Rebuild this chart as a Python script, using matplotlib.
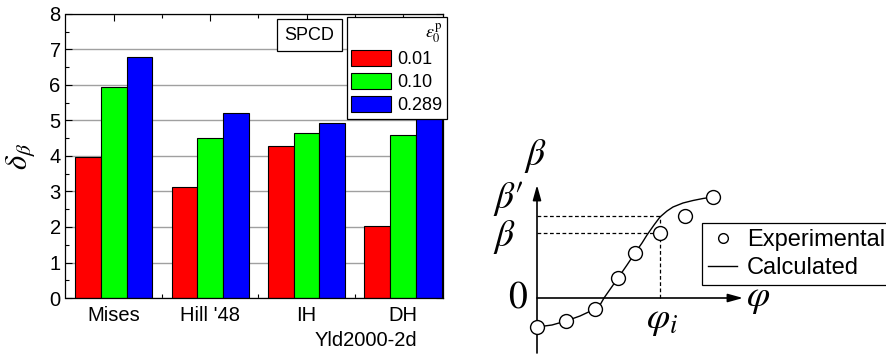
import numpy as np
import matplotlib
matplotlib.use("Agg")
import matplotlib.pyplot as plt
from matplotlib.lines import Line2D

plt.rcParams['font.family'] = ['Liberation Sans', 'DejaVu Sans']
plt.rcParams['mathtext.fontset'] = 'stix'

# bar chart data
models = ['Mises', "Hill '48", 'IH', 'DH']
strain_labels = ['0.01', '0.10', '0.289']
colors = ['#ff0000', '#00ff00', '#0000ff']
d_001 = [3.97, 3.12, 4.28, 2.02]
d_010 = [5.95, 4.50, 4.65, 4.60]
d_0289 = [6.78, 5.22, 4.93, 5.12]

# schematic data (arbitrary units)
phi_exp = [0.0, 2.9, 5.8, 8.1, 9.8, 12.3, 14.8, 17.6]
beta_exp = [-2.9, -2.3, -1.1, 2.0, 4.5, 6.5, 8.2, 10.1]
phi_calc = [0.0, 1.5, 2.9, 4.3, 5.8, 6.3, 6.7, 7.4, 8.1, 9.0, 9.8, 10.5,
            11.0, 11.7, 12.3, 13.0, 13.6, 14.6, 15.6, 16.6, 17.6]
beta_calc = [-2.9, -2.7, -2.3, -1.8, -1.1, -0.7, 0.0, 1.0, 2.0, 3.3, 4.5, 5.5,
             6.3, 7.3, 8.1, 8.7, 9.1, 9.5, 9.75, 9.95, 10.1]
phi_i = 12.3
beta_i = 6.5
beta_prime = 8.2

fig = plt.figure(figsize=(8.87, 3.58), dpi=100)

#%% left: bar chart
ax = fig.add_axes([65.5 / 887, 60 / 358, 377.5 / 887, 284 / 358])
x = np.arange(len(models))
w = 0.267
for k, (vals, c) in enumerate(zip([d_001, d_010, d_0289], colors)):
    ax.bar(x + (k - 1) * w, vals, w, color=c, edgecolor='k', lw=0.8,
           label=strain_labels[k], zorder=2)

ax.set_xlim(-0.5, 3.415)
ax.set_ylim(0, 8)
ax.set_yticks(range(0, 9))
ax.set_yticks(np.arange(0.5, 8, 1), minor=True)
ax.set_xticks(x)
ax.set_xticks(np.arange(0.5, 3.5, 1), minor=True)
ax.set_xticklabels(models)
ax.yaxis.grid(True, color='#a0a0a0', lw=1)
ax.set_axisbelow(True)
ax.tick_params(which='both', direction='in', top=True, right=True,
               labelsize=14.5, width=0.8)
ax.tick_params(which='major', length=5)
ax.tick_params(which='minor', length=3)
ax.tick_params(axis='x', pad=6)
for s in ax.spines.values():
    s.set_linewidth(0.9)
ax.set_ylabel(r'$\delta_{\beta}$', fontsize=22, labelpad=9)

ax.text(0.646, 0.926, 'SPCD', transform=ax.transAxes, ha='center', va='center',
        fontsize=13, bbox=dict(boxstyle='square,pad=0.4', fc='white', ec='k', lw=0.9))
leg = ax.legend(title=r'$\varepsilon_0^{\rm p}$', loc='upper right',
                bbox_to_anchor=(1.01, 0.99), fontsize=13, title_fontsize=13,
                frameon=True, fancybox=False, edgecolor='k', framealpha=1,
                handlelength=2.2, handleheight=0.95, handletextpad=0.35,
                labelspacing=0.28, borderpad=0.25, borderaxespad=0.0,
                alignment='right')
leg.get_frame().set_linewidth(0.9)
fig.text(366 / 887, 1 - 340 / 358, 'Yld2000-2d', ha='center', va='center',
         fontsize=14.5)

#%% right: schematic
ax2 = fig.add_axes([480 / 887, 0, 407 / 887, 218 / 358])
ax2.set_xlim(-5.7, 35.0)
ax2.set_ylim(-6.0, 15.8)
ax2.axis('off')

ap = dict(arrowstyle='-|>,head_length=0.9,head_width=0.25', lw=1.2, color='k',
          shrinkA=0, shrinkB=0)
ax2.annotate('', xy=(0, 11.3), xytext=(0, -5.5), arrowprops=ap)
ax2.annotate('', xy=(20.6, 0), xytext=(0, 0), arrowprops=ap)

ax2.plot([0, phi_i], [beta_prime, beta_prime], 'k--', lw=0.9, dashes=(3, 2))
ax2.plot([0, phi_i], [beta_i, beta_i], 'k--', lw=0.9, dashes=(3, 2))
ax2.plot([phi_i, phi_i], [0, beta_prime], 'k--', lw=0.9, dashes=(3, 2))

ax2.plot(phi_calc, beta_calc, 'k-', lw=1.0, label='Calculated')
ax2.plot(phi_exp, beta_exp, 'o', ms=10, mfc='white', mec='k', mew=1.0,
         label='Experimental', zorder=3)

fs = 27
ax2.text(-0.2, 14.2, r'$\beta$', fontsize=fs, ha='center', va='center')
ax2.text(-4.4, 10.0, r"$\beta\prime$", fontsize=fs, ha='left', va='center')
ax2.text(-4.4, 6.1, r'$\beta$', fontsize=fs, ha='left', va='center')
ax2.text(-2.9, 0.1, r'$0$', fontsize=fs, ha='left', va='center')
ax2.text(22.1, 0.0, r'$\varphi$', fontsize=fs, ha='center', va='center')
ax2.text(12.5, -2.2, r'$\varphi_i$', fontsize=fs, ha='center', va='center')

handles = [Line2D([], [], ls='none', marker='o', ms=7, mfc='white', mec='k', mew=1.0),
           Line2D([], [], color='k', lw=1.0)]
leg2 = ax2.legend(handles, ['Experimental', 'Calculated'], loc='upper left',
                  bbox_to_anchor=(16.5, 7.5), bbox_transform=ax2.transData,
                  fontsize=17, frameon=True, fancybox=False, edgecolor='k',
                  framealpha=1, handlelength=1.25, handletextpad=0.4,
                  labelspacing=0.25, borderpad=0.25, borderaxespad=0.0)
leg2.get_frame().set_linewidth(0.9)

fig.savefig('out.png', dpi=100)
